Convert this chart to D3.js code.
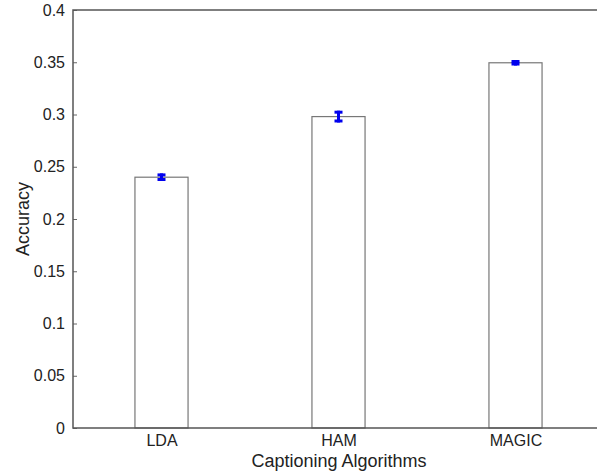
<!DOCTYPE html>
<html>
<head>
<meta charset="utf-8">
<script src="https://cdn.jsdelivr.net/npm/d3@7"></script>
<style>
  body { margin: 0; background: #fff; }
  text { font-family: "Liberation Sans", Arial, sans-serif; fill: #222; }
</style>
</head>
<body>
<svg id="chart" width="597" height="471"></svg>
<script>
const categories = ['LDA', 'HAM', 'MAGIC']
const accuracy = [0.24, 0.298, 0.3495]
const errors = [0.0022, 0.0042, 0.0012]
const yTicks = [0, 0.05, 0.1, 0.15, 0.2, 0.25, 0.3, 0.35, 0.4]

const svg = d3.select('#chart')
const mLeft = 73, mTop = 10, mBottom = 428
const step = 177
const mRight = mLeft + step * 3   // axes run past the picture edge

const x = d3.scaleLinear().domain([0.5, 3.5]).range([mLeft, mRight])
const y = d3.scaleLinear().domain([0, 0.4]).range([mBottom, mTop])
const barW = step * 0.3

const g = svg.append('g')

// bars
g.selectAll('rect.bar').data(accuracy)
  .enter().append('rect')
    .attr('class', 'bar')
    .attr('x', (d, i) => x(i + 1) - barW / 2)
    .attr('y', d => y(d))
    .attr('width', barW)
    .attr('height', d => y(0) - y(d))
    .attr('fill', '#fff')
    .attr('stroke', '#777')
    .attr('stroke-width', 1.2)

// error bars
const eb = g.selectAll('g.err').data(accuracy)
  .enter().append('g')
    .attr('class', 'err')
    .attr('stroke', '#0000ee')
    .attr('stroke-width', 3)
eb.append('line')
    .attr('x1', (d, i) => x(i + 1)).attr('x2', (d, i) => x(i + 1))
    .attr('y1', (d, i) => y(d - errors[i]) + 1.5)
    .attr('y2', (d, i) => y(d + errors[i]) - 1.5)
eb.append('line')
    .attr('x1', (d, i) => x(i + 1) - 4).attr('x2', (d, i) => x(i + 1) + 4)
    .attr('y1', (d, i) => y(d + errors[i])).attr('y2', (d, i) => y(d + errors[i]))
eb.append('line')
    .attr('x1', (d, i) => x(i + 1) - 4).attr('x2', (d, i) => x(i + 1) + 4)
    .attr('y1', (d, i) => y(d - errors[i])).attr('y2', (d, i) => y(d - errors[i]))

// y axis
const yAxis = d3.axisLeft(y).tickValues(yTicks).tickSize(-4).tickPadding(8)
  .tickFormat(d => d === 0 ? '0' : String(+d.toFixed(2)))
const ya = svg.append('g').attr('transform', `translate(${mLeft},0)`).call(yAxis)
ya.select('.domain').remove()
ya.selectAll('line').attr('stroke', '#666')
ya.selectAll('text').style('font-size', '16px').attr('fill', '#222')

// x axis labels
const xAxis = d3.axisBottom(x).tickValues([1, 2, 3]).tickSize(0).tickPadding(7)
  .tickFormat((d, i) => categories[i])
const xa = svg.append('g').attr('transform', `translate(0,${mBottom})`).call(xAxis)
xa.select('.domain').remove()
xa.selectAll('text').style('font-size', '16px').attr('fill', '#222')

// frame
svg.append('path')
  .attr('d', `M${mRight},${mTop}H${mLeft}V${mBottom}H${mRight}`)
  .attr('fill', 'none')
  .attr('stroke', '#555')
  .attr('stroke-width', 1.5)

// axis titles
svg.append('text')
  .attr('x', 339).attr('y', 467)
  .attr('text-anchor', 'middle')
  .style('font-size', '18px')
  .text('Captioning Algorithms')

svg.append('text')
  .attr('transform', `translate(29,${(mTop + mBottom) / 2}) rotate(-90)`)
  .attr('text-anchor', 'middle')
  .style('font-size', '18px')
  .text('Accuracy')
</script>
</body>
</html>
